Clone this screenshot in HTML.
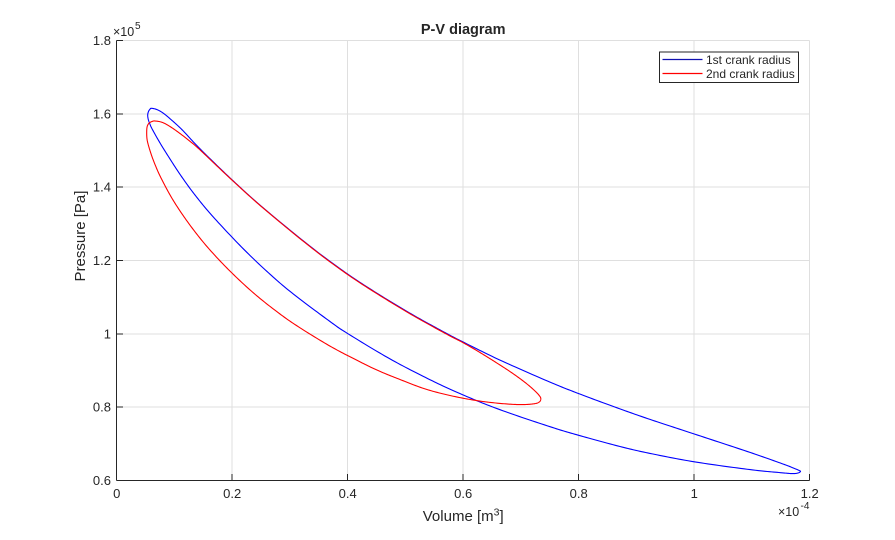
<!DOCTYPE html>
<html><head><meta charset="utf-8">
<style>
html,body{margin:0;padding:0;background:#fff;}
svg{display:block;}
text{font-family:"Liberation Sans",Arial,sans-serif;fill:#262626;}
</style></head>
<body>
<svg id="s" width="895" height="540" viewBox="0 0 895 540" xmlns="http://www.w3.org/2000/svg">
<rect x="0" y="0" width="895" height="540" fill="#fff"/>
<g stroke="#dfdfdf" stroke-width="1" shape-rendering="crispEdges">
<line x1="232.2" y1="40.7" x2="232.2" y2="480.3"/>
<line x1="347.7" y1="40.7" x2="347.7" y2="480.3"/>
<line x1="463.2" y1="40.7" x2="463.2" y2="480.3"/>
<line x1="578.7" y1="40.7" x2="578.7" y2="480.3"/>
<line x1="694.2" y1="40.7" x2="694.2" y2="480.3"/>
<line x1="809.7" y1="40.7" x2="809.7" y2="480.3"/>
<line x1="116.7" y1="40.7" x2="809.7" y2="40.7"/>
<line x1="116.7" y1="114" x2="809.7" y2="114"/>
<line x1="116.7" y1="187.2" x2="809.7" y2="187.2"/>
<line x1="116.7" y1="260.5" x2="809.7" y2="260.5"/>
<line x1="116.7" y1="333.8" x2="809.7" y2="333.8"/>
<line x1="116.7" y1="407" x2="809.7" y2="407"/>
</g>
<g stroke="#262626" stroke-width="1" shape-rendering="crispEdges">
<line x1="116.7" y1="40.7" x2="116.7" y2="480.3"/>
<line x1="116.7" y1="480.3" x2="809.7" y2="480.3"/>
<line x1="232.2" y1="480.3" x2="232.2" y2="474"/>
<line x1="347.7" y1="480.3" x2="347.7" y2="474"/>
<line x1="463.2" y1="480.3" x2="463.2" y2="474"/>
<line x1="578.7" y1="480.3" x2="578.7" y2="474"/>
<line x1="694.2" y1="480.3" x2="694.2" y2="474"/>
<line x1="809.7" y1="480.3" x2="809.7" y2="474"/>
<line x1="116.7" y1="40.7" x2="123" y2="40.7"/>
<line x1="116.7" y1="114" x2="123" y2="114"/>
<line x1="116.7" y1="187.2" x2="123" y2="187.2"/>
<line x1="116.7" y1="260.5" x2="123" y2="260.5"/>
<line x1="116.7" y1="333.8" x2="123" y2="333.8"/>
<line x1="116.7" y1="407" x2="123" y2="407"/>
</g>
<g font-size="13" text-anchor="end">
<text x="111" y="45">1.8</text>
<text x="111" y="118.5">1.6</text>
<text x="111" y="191.7">1.4</text>
<text x="111" y="265">1.2</text>
<text x="111" y="338.3">1</text>
<text x="111" y="411.5">0.8</text>
<text x="111" y="484.8">0.6</text>
</g>
<g font-size="13" text-anchor="middle">
<text x="116.7" y="498">0</text>
<text x="232.2" y="498">0.2</text>
<text x="347.7" y="498">0.4</text>
<text x="463.2" y="498">0.6</text>
<text x="578.7" y="498">0.8</text>
<text x="694.2" y="498">1</text>
<text x="809.7" y="498">1.2</text>
</g>
<text x="113" y="36" font-size="12.5">×10</text>
<text x="135" y="29" font-size="10">5</text>
<text x="778" y="516" font-size="12.5">×10</text>
<text x="800.5" y="509" font-size="10">-4</text>
<text x="463.2" y="34" font-size="14.5" font-weight="bold" text-anchor="middle" fill="#000">P-V diagram</text>
<text x="463.2" y="521" font-size="15" text-anchor="middle">Volume  [m<tspan font-size="10.5" dy="-5.5">3</tspan><tspan dy="5.5">]</tspan></text>
<text transform="translate(85,236) rotate(-90)" font-size="15" text-anchor="middle">Pressure [Pa]</text>

<polyline id="blue" fill="none" stroke="#0000ff" stroke-width="1.1" stroke-linejoin="round" points="151.5,108.3 157,109.6 163,113 170,118.7 182,129.7 200,148.8 231.7,179.5 263.3,207.9 310,246.2 347.3,273.8 380,295.1 413.3,315.1 446.7,333.5 462.7,341.8 500,360.1 550,382.1 578.7,393.6 616.7,407.7 650,419.4 694.3,434 750,452.4 783.3,464.1 794,468.3 799,470.4 800.5,471.5 798,473 793,473.6 783.3,472.9 750,469.6 694.3,461.8 650,453.4 620,446.5 578.7,435.3 550,426.7 500,409.7 462.3,394.6 430,379.7 390,358.9 347.3,333.3 330,321.5 293.7,294.3 270,274.2 243.3,248.8 213.3,217 195,195 180,174.3 165,151.1 158,139.5 152,128.7 150,124.3 148.3,119.5 147.7,115 148.5,111.5 150,109.2 151.5,108.3"/>
<polyline id="red" fill="none" stroke="#ff0000" stroke-width="1.1" stroke-linejoin="round" points="155,121 162,122.3 170,126.5 180,133.5 190,141.3 200,149.9 231.7,179.8 263.3,208.2 310,246.6 347.3,274.3 380,295.6 413.3,315.7 446.7,334.2 462.7,342.5 480,352.5 500,365 515,375 527,384 535,391 539.2,395.5 540.8,398.5 539.5,401.8 534,403.8 520,404.6 500,403.4 476.7,400.6 450,395.5 425,388.9 400,379.5 377.5,370.3 355,359.3 330,346.1 300,327.8 280,314 255.3,294.5 231.3,272.4 210,250 193.7,230.1 180,210.9 170,194.9 160.3,176.5 155.5,165.7 151.7,155.8 148.5,145.6 147,138.9 146.7,131.7 147.2,126.5 149,123.2 152,121.5 155,121"/>

<rect x="659.5" y="52" width="139" height="30.5" fill="#fff" stroke="#262626" stroke-width="1" shape-rendering="crispEdges"/>
<line x1="662.5" y1="59.5" x2="702.5" y2="59.5" stroke="#1010b0" stroke-width="1.2"/>
<line x1="662.5" y1="73.5" x2="702.5" y2="73.5" stroke="#ff0000" stroke-width="1.2"/>
<text x="706" y="64" font-size="12" fill="#000">1st crank radius</text>
<text x="706" y="78" font-size="12" fill="#000">2nd crank radius</text>
</svg>
<script>
(function(){
  function smooth(id){
    var el=document.getElementById(id);
    var raw=el.getAttribute('points').trim().split(/\s+/).map(function(p){var a=p.split(',');return [parseFloat(a[0]),parseFloat(a[1])];});
    var n=raw.length, out=[];
    for(var i=0;i<n-1;i++){
      var p0=raw[Math.max(i-1,0)],p1=raw[i],p2=raw[i+1],p3=raw[Math.min(i+2,n-1)];
      if(i===0){p0=raw[n-2];}
      if(i===n-2){p3=raw[1];}
      var steps=16;
      for(var s=0;s<steps;s++){
        var t=s/steps,t2=t*t,t3=t2*t;
        var x=0.5*((2*p1[0])+(-p0[0]+p2[0])*t+(2*p0[0]-5*p1[0]+4*p2[0]-p3[0])*t2+(-p0[0]+3*p1[0]-3*p2[0]+p3[0])*t3);
        var y=0.5*((2*p1[1])+(-p0[1]+p2[1])*t+(2*p0[1]-5*p1[1]+4*p2[1]-p3[1])*t2+(-p0[1]+3*p1[1]-3*p2[1]+p3[1])*t3);
        out.push(x.toFixed(2)+','+y.toFixed(2));
      }
    }
    out.push(raw[n-1][0]+','+raw[n-1][1]);
    el.setAttribute('points',out.join(' '));
  }
  try{smooth('blue');smooth('red');}catch(e){}
})();
</script>
</body></html>
